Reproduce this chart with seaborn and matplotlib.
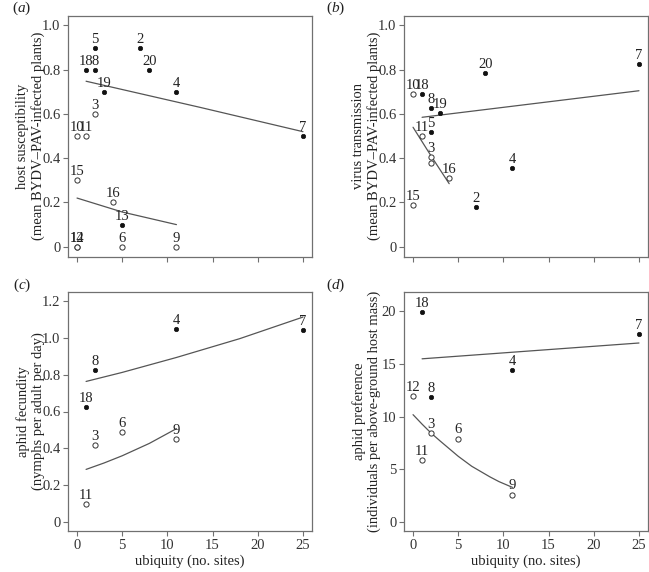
import matplotlib
matplotlib.use("Agg")
import matplotlib.pyplot as plt
import seaborn as sns

# panel (a): host susceptibility
a_x = [2, 7, 1, 2, 8, 3, 11, 25, 5, 2, 0, 1, 0, 4, 5, 11, 0, 0]
a_y = [0.9, 0.9, 0.8, 0.8, 0.8, 0.7, 0.7, 0.5, 0.1, 0.6, 0.5, 0.5, 0.3, 0.2, 0, 0, 0, 0]
a_lab = ["5", "2", "18", "8", "20", "19", "4", "7", "13",
         "3", "10", "11", "15", "16", "6", "9", "12", "14"]
a_filled = [1] * 9 + [0] * 9
a_fit1_x = [1, 13.6, 25]
a_fit1_y = [0.748, 0.63, 0.52]
a_fit0_x = [0, 5, 11]
a_fit0_y = [0.22, 0.157, 0.10]

# panel (b): virus transmission
b_x = [1, 2, 3, 2, 8, 7, 11, 25, 0, 1, 2, 2, 4, 0]
b_y = [0.69, 0.625, 0.605, 0.52, 0.785, 0.18, 0.357, 0.826,
       0.69, 0.50, 0.405, 0.378, 0.31, 0.19]
b_lab = ["18", "8", "19", "5", "20", "2", "4", "7", "10", "11", "3", "", "16", "15"]
b_filled = [1] * 8 + [0] * 6
b_fit1_x = [1, 13, 25]
b_fit1_y = [0.585, 0.645, 0.705]
b_fit0_x = [0, 2, 4]
b_fit0_y = [0.54, 0.41, 0.285]

# panel (c): aphid fecundity
c_x = [11, 2, 1, 25, 5, 2, 11, 1]
c_y = [1.047, 0.825, 0.625, 1.042, 0.487, 0.42, 0.449, 0.10]
c_lab = ["4", "8", "18", "7", "6", "3", "9", "11"]
c_filled = [1] * 4 + [0] * 4
c_fit1_x = [1, 5, 11, 18, 25]
c_fit1_y = [0.763, 0.812, 0.893, 0.995, 1.112]
c_fit0_x = [1, 3, 5, 8, 11]
c_fit0_y = [0.286, 0.321, 0.36, 0.427, 0.507]

# panel (d): aphid preference
d_x = [1, 2, 11, 25, 0, 2, 5, 1, 11]
d_y = [19.95, 11.9, 14.45, 17.85, 12.0, 8.47, 7.93, 5.9, 2.62]
d_lab = ["18", "8", "4", "7", "12", "3", "6", "11", "9"]
d_filled = [1] * 4 + [0] * 5
d_fit1_x = [1, 13, 25]
d_fit1_y = [15.5, 16.25, 17.0]
d_fit0_x = [0, 1, 2, 3, 5, 6.5, 8.5, 9.5, 11]
d_fit0_y = [10.2, 9.3, 8.45, 7.7, 6.25, 5.3, 4.3, 3.85, 3.3]

x_ticks = [0, 5, 10, 15, 20, 25]
prop_ticks = [0, 0.2, 0.4, 0.6, 0.8, 1.0]
prop_labels = ["0", "0.2", "0.4", "0.6", "0.8", "1.0"]
fec_ticks = [0, 0.2, 0.4, 0.6, 0.8, 1.0, 1.2]
fec_labels = ["0", "0.2", "0.4", "0.6", "0.8", "1.0", "1.2"]
pref_ticks = [0, 5, 10, 15, 20]
pref_labels = ["0", "5", "10", "15", "20"]

sns.set_style("ticks")
plt.rcParams["font.family"] = ["Liberation Serif", "DejaVu Serif"]
plt.rcParams["mathtext.fontset"] = "custom"
plt.rcParams["mathtext.rm"] = "Liberation Serif"
plt.rcParams["mathtext.it"] = "Liberation Serif:italic"

fig = plt.figure(figsize=(6.49, 5.72), dpi=100)
W, H = 649, 572


def rect(left, top, right, bottom):
    return [left / W, 1 - bottom / H, (right - left) / W, (bottom - top) / H]


panels = [
    (rect(68, 15.5, 312, 256.7), a_x, a_y, a_lab, a_filled,
     (a_fit1_x, a_fit1_y), (a_fit0_x, a_fit0_y), (-0.045, 1.045),
     prop_ticks, prop_labels,
     "host susceptibility\n(mean BYDV\u2013PAV-infected plants)", False, "a"),
    (rect(404, 15.5, 648, 256.7), b_x, b_y, b_lab, b_filled,
     (b_fit1_x, b_fit1_y), (b_fit0_x, b_fit0_y), (-0.045, 1.045),
     prop_ticks, prop_labels,
     "virus transmission\n(mean BYDV\u2013PAV-infected plants)", False, "b"),
    (rect(68, 292, 312, 531), c_x, c_y, c_lab, c_filled,
     (c_fit1_x, c_fit1_y), (c_fit0_x, c_fit0_y), (-0.048, 1.248),
     fec_ticks, fec_labels,
     "aphid fecundity\n(nymphs per adult per day)", True, "c"),
    (rect(404, 292, 648, 531), d_x, d_y, d_lab, d_filled,
     (d_fit1_x, d_fit1_y), (d_fit0_x, d_fit0_y), (-0.84, 21.84),
     pref_ticks, pref_labels,
     "aphid preference\n(individuals per above-ground host mass)", True, "d"),
]

for (pos, xs, ys, labs, filled, fit1, fit0, ylim, yt, ytl,
     ylabel, bottom, letter) in panels:
    ax = fig.add_axes(pos)
    fx = [x for x, f in zip(xs, filled) if f]
    fy = [y for y, f in zip(ys, filled) if f]
    ox = [x for x, f in zip(xs, filled) if not f]
    oy = [y for y, f in zip(ys, filled) if not f]

    sns.lineplot(x=fit1[0], y=fit1[1], ax=ax, color="#555555", linewidth=0.9)
    sns.lineplot(x=fit0[0], y=fit0[1], ax=ax, color="#555555", linewidth=0.9)
    sns.scatterplot(x=fx, y=fy, ax=ax, color="#111111", edgecolor="#111111",
                    s=10, linewidth=0.5, zorder=3)
    sns.scatterplot(x=ox, y=oy, ax=ax, color="white", edgecolor="#333333",
                    s=14, linewidth=0.7, zorder=3)

    for x, y, lab in zip(xs, ys, labs):
        ax.annotate(lab, (x, y), xytext=(0, 1.5), textcoords="offset points",
                    ha="center", va="bottom", fontsize=10.5, color="#222222")

    ax.set_xlim(-1, 26)
    ax.set_ylim(*ylim)
    ax.set_xticks(x_ticks)
    ax.set_yticks(yt)
    ax.set_yticklabels(ytl)
    if bottom:
        ax.set_xticklabels([str(t) for t in x_ticks])
        ax.set_xlabel("ubiquity (no. sites)", fontsize=10.5, labelpad=2,
                      color="#222222")
    else:
        ax.set_xticklabels([])
    ax.set_ylabel(ylabel, fontsize=10.5, color="#222222", linespacing=1.15)
    ax.yaxis.set_label_coords(-0.095, 0.5)
    ax.tick_params(direction="out", length=3.5, width=0.8, color="#707070",
                   labelsize=10.5, labelcolor="#333333", pad=2)
    for sp in ax.spines.values():
        sp.set_color("#707070")
        sp.set_linewidth(0.9)

    fig.text(pos[0] - 46 / W if letter in "ac" else pos[0] - 68 / W,
             pos[1] + pos[3] + 7 / H, "($\\mathit{%s}$)" % letter,
             ha="center", va="center", fontsize=11, color="#222222")

fig.savefig("out.png", dpi=100)
